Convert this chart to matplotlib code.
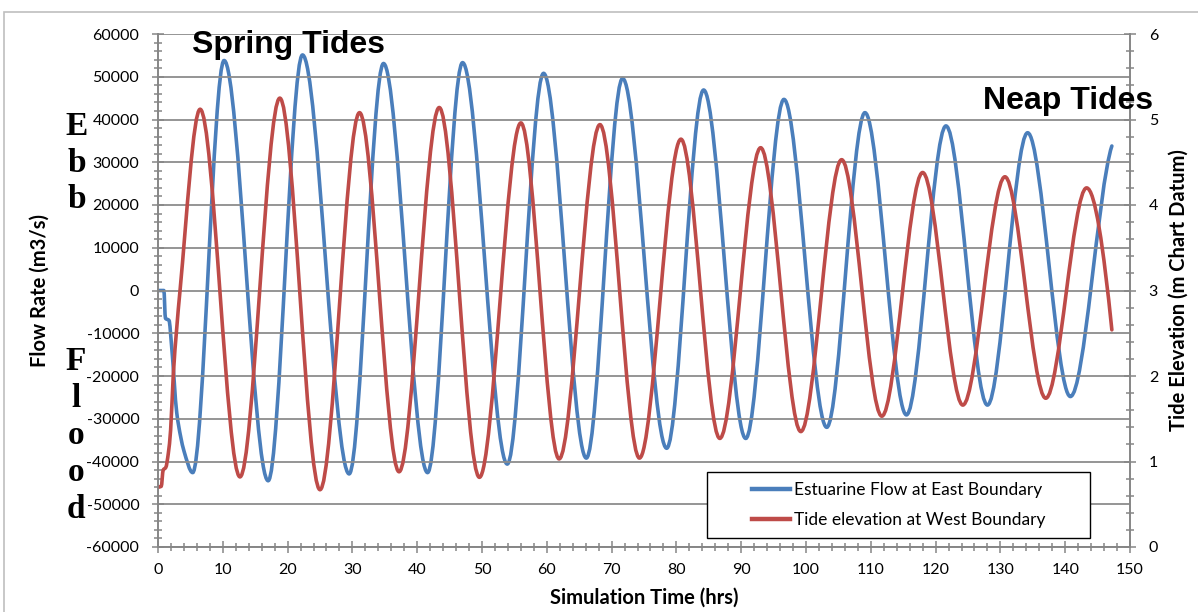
import numpy as np
import matplotlib
matplotlib.use('Agg')
import matplotlib.pyplot as plt
from matplotlib.path import Path
from matplotlib.patches import PathPatch, Rectangle
from matplotlib.lines import Line2D
from matplotlib.ticker import MultipleLocator

# ── data (hours, m3/s and m chart datum) ─────────────────────────────────
# estuarine flow at east boundary: start-up steps, then successive extrema
flow_t = [0, 0.9, 1.15, 1.7, 2.1, 2.9, 3.5, 4.0,
          5.35, 10.2, 17.0, 22.3, 29.5, 34.8, 41.6, 47.0, 53.9, 59.5,
          66.1, 71.7, 78.5, 84.2, 90.7, 96.6, 103.2, 109.1, 115.5, 121.6,
          128.0, 134.2, 140.8, 147.2]
flow_v = [0, 0, -6500, -7000, -13000, -28700, -34200, -37500,
          -42600, 53800, -44500, 55100, -42900, 53100, -42600, 53300, -40600, 50800,
          -39200, 49600, -36900, 46900, -34600, 44700, -32000, 41600, -29100, 38500,
          -26800, 36900, -24800, 33800]

# tide elevation at west boundary
tide_t = [0, 0.5, 0.8, 1.2, 1.6, 1.95, 2.35, 3.4,
          6.5, 12.65, 18.8, 25.0, 31.1, 37.2, 43.4, 49.6, 56.0, 61.9,
          68.2, 74.3, 80.7, 86.7, 93.0, 99.2, 105.5, 111.7, 118.0, 124.2,
          130.7, 137.0, 143.3, 147.2]
tide_v = [0.70, 0.71, 0.90, 0.93, 1.10, 1.37, 2.0, 3.0,
          5.12, 0.82, 5.25, 0.67, 5.08, 0.88, 5.14, 0.815, 4.96, 1.03,
          4.94, 1.04, 4.77, 1.27, 4.67, 1.35, 4.53, 1.53, 4.38, 1.66,
          4.33, 1.74, 4.20, 2.54]

labels = ["Estuarine Flow at East Boundary", "Tide elevation at West Boundary"]
BLUE = '#4a7ebb'
RED = '#be4b48'
GRID = '#8c8c8c'

W, H = 1198, 612


def smooth_path(t, v, end_scale=1.0):
    """Monotone (pchip-like) cubic through the points, as a bezier Path."""
    t = np.asarray(t, float)
    v = np.asarray(v, float)
    h = np.diff(t)
    d = np.diff(v) / h
    m = np.zeros(len(t))
    for i in range(1, len(t) - 1):
        if d[i - 1] * d[i] > 0:
            w1 = 2 * h[i] + h[i - 1]
            w2 = h[i] + 2 * h[i - 1]
            m[i] = (w1 + w2) / (w1 / d[i - 1] + w2 / d[i])
    me = ((2 * h[-1] + h[-2]) * d[-1] - h[-1] * d[-2]) / (h[-1] + h[-2])
    if np.sign(me) != np.sign(d[-1]):
        me = 0.0
    m[-1] = me * end_scale
    verts = [(t[0], v[0])]
    codes = [Path.MOVETO]
    for i in range(len(t) - 1):
        verts += [(t[i] + h[i] / 3, v[i] + m[i] * h[i] / 3),
                  (t[i + 1] - h[i] / 3, v[i + 1] - m[i + 1] * h[i] / 3),
                  (t[i + 1], v[i + 1])]
        codes += [Path.CURVE4] * 3
    return Path(verts, codes)


plt.rcParams['font.family'] = ['Lato', 'DejaVu Sans']
plt.rcParams['axes.unicode_minus'] = False

fig = plt.figure(figsize=(W / 100, H / 100), dpi=100)
ax = fig.add_axes([158 / W, 1 - 547 / H, 972 / W, 513 / H])
ax2 = ax.twinx()

ax.set_xlim(0, 150)
ax.set_ylim(-60000, 60000)
ax2.set_ylim(0, 6)

ax.xaxis.set_major_locator(MultipleLocator(10))
ax.xaxis.set_minor_locator(MultipleLocator(2))
ax.yaxis.set_major_locator(MultipleLocator(10000))
ax.yaxis.set_minor_locator(MultipleLocator(2000))
ax2.yaxis.set_major_locator(MultipleLocator(1))
ax2.yaxis.set_minor_locator(MultipleLocator(0.2))

ax.grid(axis='y', which='major', color=GRID, lw=1.3)
for a in (ax, ax2):
    for s in a.spines.values():
        s.set_color('#868686')
        s.set_linewidth(1.2)
    a.spines['top'].set_visible(False)
ax.tick_params(which='both', direction='inout', color='#868686', width=1.1,
               labelsize=11.5, labelcolor='black')
ax.tick_params(which='major', length=9)
ax.tick_params(which='minor', length=6)
ax.tick_params(axis='y', pad=9)
ax.tick_params(axis='x', pad=7)
ax2.tick_params(which='both', direction='inout', color='#868686', width=1.1,
                labelsize=11.5, labelcolor='black', pad=9)
ax2.tick_params(which='major', length=9)
ax2.tick_params(which='minor', length=6)

ax.add_patch(PathPatch(smooth_path(flow_t, flow_v, end_scale=0.25), facecolor='none',
                       edgecolor=BLUE, lw=2.6, capstyle='round', joinstyle='round'))
ax2.add_patch(PathPatch(smooth_path(tide_t, tide_v), facecolor='none',
                        edgecolor=RED, lw=2.6, capstyle='round', joinstyle='round'))

ax.set_xlabel("Simulation Time (hrs)", fontsize=14.5, fontweight='bold')
ax.set_ylabel("Flow Rate (m3/s)", fontsize=14.5, fontweight='bold')
ax2.set_ylabel("Tide Elevation (m Chart Datum)", fontsize=14.5, fontweight='bold')
ax.xaxis.set_label_coords(0.5, (547 - 588) / 513)
ax.yaxis.set_label_coords((50 - 158) / 972, 0.5)
ax2.yaxis.set_label_coords((1169 - 158) / 972, 0.5)

# legend: Excel-like box with the entries centred inside
x0, y0 = (707 - 158) / 972, (547 - 538) / 513
bw, bh = (1090 - 707) / 972, (538 - 472) / 513
ax2.add_patch(Rectangle((x0, y0), bw, bh, transform=ax2.transAxes, facecolor='white',
                        edgecolor='black', lw=1.0, zorder=4))
handles = [Line2D([], [], color=BLUE, lw=3.2), Line2D([], [], color=RED, lw=3.2)]
leg = ax2.legend(handles, labels, loc='center',
                 bbox_to_anchor=(x0 + bw / 2, y0 + bh / 2),
                 fontsize=12.5, frameon=False, handlelength=2.2, handletextpad=0.2,
                 borderpad=0, labelspacing=0.8, borderaxespad=0)
leg.set_zorder(5)

# annotations
fig.text(192 / W, 1 - 52.5 / H, "Spring Tides", family='Liberation Sans',
         fontweight='bold', fontsize=23, va='baseline', ha='left')
fig.text(983 / W, 1 - 109 / H, "Neap Tides", family='Liberation Sans',
         fontweight='bold', fontsize=23, va='baseline', ha='left')
for ch, yb in zip("Ebb", [135, 171.5, 208]):
    fig.text(77 / W, 1 - yb / H, ch, family='Liberation Serif', fontweight='bold',
             fontsize=24, va='baseline', ha='center')
for ch, yb in zip("Flood", [370.5, 407, 444, 481, 518]):
    fig.text(76 / W, 1 - yb / H, ch, family='Liberation Serif', fontweight='bold',
             fontsize=24, va='baseline', ha='center')

# chart area border
fig.patches.append(Rectangle((4 / W, -0.5), 2, 1 - 12 / H + 0.5, transform=fig.transFigure,
                             fill=False, ec='#bfbfbf', lw=1.2))

fig.savefig('out.png', dpi=100)
